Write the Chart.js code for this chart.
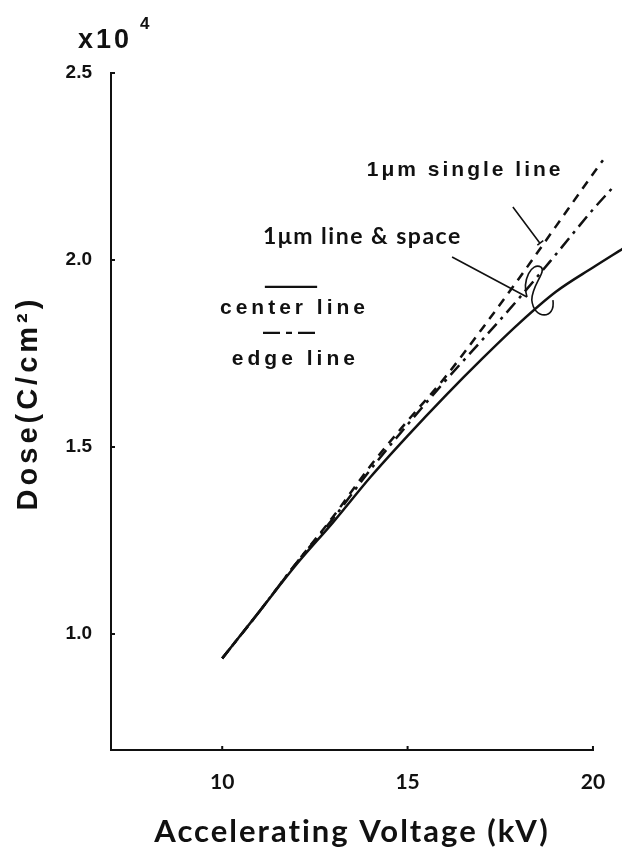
<!DOCTYPE html>
<html>
<head>
<meta charset="utf-8">
<script src="https://cdn.jsdelivr.net/npm/chart.js@4.4.0/dist/chart.umd.min.js"></script>
<style>
  html, body { margin: 0; padding: 0; background: #fff; }
  #wrap { width: 622px; height: 852px; position: relative; }
</style>
</head>
<body>
<div id="wrap"><canvas id="doseChart"></canvas></div>
<script>
// Dose (x10^4 C/cm2) vs accelerating voltage (kV)
const kvCenter = [10, 11, 12, 13, 14, 15, 16, 17, 18, 19, 20, 20.8];
const doseCenter = [0.935, 1.06, 1.186, 1.30, 1.42, 1.53, 1.635, 1.735, 1.83, 1.915, 1.98, 2.03];

const kvEdge = [10, 11, 12, 13, 14, 15, 16, 17, 18, 19, 20, 20.5];
const doseEdge = [0.935, 1.06, 1.19, 1.31, 1.44, 1.56, 1.675, 1.785, 1.897, 2.015, 2.135, 2.19];

const kvSingle = [10, 11, 12, 13, 14, 15, 16, 17, 18, 19, 20, 20.27];
const doseSingle = [0.935, 1.06, 1.19, 1.315, 1.45, 1.57, 1.685, 1.815, 1.95, 2.09, 2.23, 2.267];

const xTickValues = [10, 15, 20];
const yTickValues = [1.0, 1.5, 2.0, 2.5];

const toPoints = (xs, ys) => xs.map((v, i) => ({ x: v, y: ys[i] }));

// axis titles, labels, leader lines and the little legend
const annotate = {
    id: 'annotate',
    afterDatasetsDraw(chart) {
        const { ctx, chartArea, scales } = chart;
        const X = v => scales.x.getPixelForValue(v);
        const Y = v => scales.y.getPixelForValue(v);
        ctx.save();
        ctx.strokeStyle = '#111';
        ctx.fillStyle = '#111';

        // short inward tick marks
        ctx.lineWidth = 2;
        ctx.beginPath();
        scales.x.ticks.forEach(t => {
            ctx.moveTo(X(t.value), chartArea.bottom);
            ctx.lineTo(X(t.value), chartArea.bottom - 4);
        });
        scales.y.ticks.forEach(t => {
            ctx.moveTo(chartArea.left, Y(t.value));
            ctx.lineTo(chartArea.left + 4, Y(t.value));
        });
        ctx.stroke();

        // x10^4 multiplier
        ctx.textBaseline = 'alphabetic';
        ctx.textAlign = 'left';
        ctx.font = '600 27px "Liberation Sans", Arial, sans-serif';
        ctx.letterSpacing = '3px';
        ctx.fillText('x10', 78, 48);
        ctx.font = '600 17px "Liberation Sans", Arial, sans-serif';
        ctx.letterSpacing = '0px';
        ctx.fillText('4', 140, 29);

        // axis titles
        ctx.textBaseline = 'middle';
        ctx.textAlign = 'center';
        ctx.font = 'bold 31px Lato, "Open Sans", sans-serif';
        ctx.letterSpacing = '2px';
        ctx.fillText('Accelerating Voltage (kV)', (chartArea.left + chartArea.right) / 2, 832);
        ctx.save();
        ctx.translate(29, 403);
        ctx.rotate(-Math.PI / 2);
        ctx.font = 'bold 29px "Liberation Sans", Arial, sans-serif';
        ctx.letterSpacing = '4px';
        ctx.fillText('Dose(C/cm\u00b2)', 0, 0);
        ctx.restore();

        // curve labels
        ctx.textAlign = 'left';
        ctx.font = 'bold 21px "Liberation Sans", Arial, sans-serif';
        ctx.letterSpacing = '3px';
        ctx.fillText('1\u03bcm single line', X(13.9), Y(2.241));
        ctx.font = 'bold 23px Lato, "Open Sans", sans-serif';
        ctx.letterSpacing = '1.5px';
        ctx.fillText('1\u03bcm line & space', X(11.1), Y(2.062));

        // leader lines
        ctx.lineWidth = 1.6;
        ctx.beginPath();
        ctx.moveTo(X(17.84), Y(2.142));
        ctx.lineTo(X(18.57), Y(2.045));
        ctx.moveTo(X(18.50), Y(2.040));
        ctx.lineTo(X(18.66), Y(2.052));
        ctx.moveTo(X(16.20), Y(2.008));
        ctx.lineTo(X(18.22), Y(1.901));
        ctx.stroke();

        // little loops marking the line & space pair
        ctx.beginPath();
        ctx.moveTo(X(18.22), Y(1.901));
        ctx.bezierCurveTo(X(18.08), Y(1.947), X(18.35), Y(1.995), X(18.60), Y(1.981));
        ctx.bezierCurveTo(X(18.75), Y(1.968), X(18.35), Y(1.933), X(18.35), Y(1.893));
        ctx.bezierCurveTo(X(18.40), Y(1.840), X(19.00), Y(1.840), X(18.92), Y(1.893));
        ctx.stroke();

        // legend
        ctx.lineWidth = 2.2;
        ctx.beginPath();
        ctx.moveTo(X(11.15), Y(1.928));
        ctx.lineTo(X(12.56), Y(1.928));
        ctx.stroke();
        ctx.setLineDash([17, 6, 6, 6]);
        ctx.beginPath();
        ctx.moveTo(X(11.10), Y(1.805));
        ctx.lineTo(X(12.56), Y(1.805));
        ctx.stroke();
        ctx.setLineDash([]);

        ctx.font = 'bold 21px "Liberation Sans", Arial, sans-serif';
        ctx.letterSpacing = '4px';
        ctx.fillText('center line', X(9.94), Y(1.872));
        ctx.fillText('edge line', X(10.26), Y(1.735));
        ctx.restore();
    }
};

const ctx = document.getElementById('doseChart');

const lineStyle = {
    borderColor: '#111',
    borderWidth: 2.5,
    pointRadius: 0,
    cubicInterpolationMode: 'monotone',
    clip: false
};

new Chart(ctx, {
    type: 'line',
    data: {
        datasets: [
            { ...lineStyle, label: 'center line', data: toPoints(kvCenter, doseCenter) },
            { ...lineStyle, label: 'edge line', data: toPoints(kvEdge, doseEdge), borderDash: [13, 6, 3, 6] },
            { ...lineStyle, label: '1\u03bcm single line', data: toPoints(kvSingle, doseSingle), borderDash: [9, 7] }
        ]
    },
    options: {
        responsive: true,
        maintainAspectRatio: false,
        animation: false,
        layout: {
            padding: { left: 0, top: 73, right: 29, bottom: 0 }
        },
        plugins: {
            legend: { display: false },
            tooltip: { enabled: false },
            title: { display: false }
        },
        scales: {
            x: {
                type: 'linear',
                min: 7,
                // a hair past 20 so the curves' last points past the axis end are kept
                max: 20.001,
                afterBuildTicks: axis => {
                    axis.ticks = xTickValues.map(v => ({ value: v }));
                },
                afterFit: axis => { axis.height = 102; },
                grid: { display: false },
                border: { display: true, color: '#111', width: 2 },
                ticks: {
                    color: '#111',
                    padding: 12,
                    maxRotation: 0,
                    font: { family: 'Lato, "Open Sans", sans-serif', size: 21, weight: 'bold' }
                }
            },
            y: {
                min: 0.69,
                max: 2.5,
                afterBuildTicks: axis => {
                    axis.ticks = yTickValues.map(v => ({ value: v }));
                },
                afterFit: axis => { axis.width = 111; },
                grid: { display: false },
                border: { display: true, color: '#111', width: 2 },
                ticks: {
                    color: '#111',
                    padding: 11,
                    callback: v => v.toFixed(1),
                    font: { family: '"Liberation Sans", Arial, sans-serif', size: 19, weight: 'bold' }
                }
            }
        }
    },
    plugins: [annotate]
});
</script>
</body>
</html>
